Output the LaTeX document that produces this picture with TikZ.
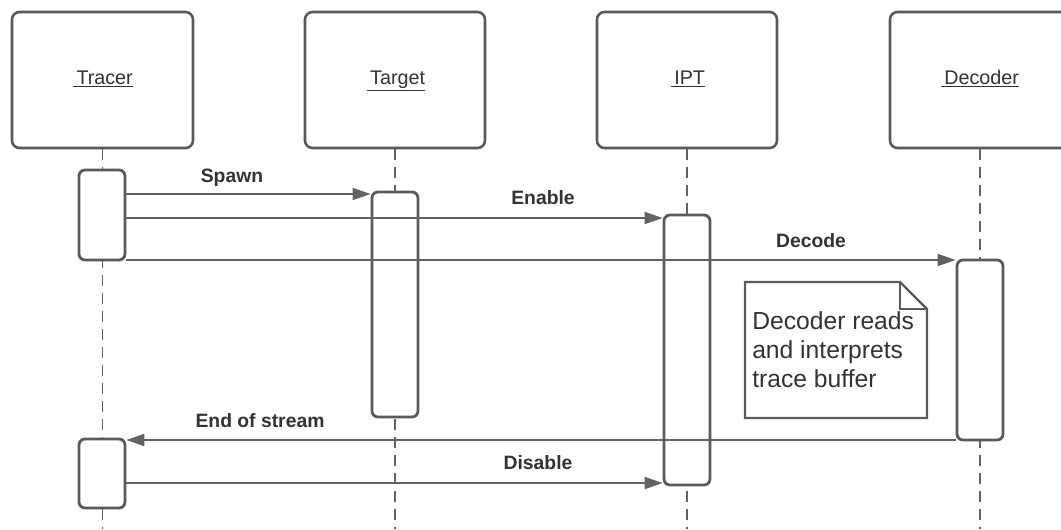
\documentclass[tikz,border=0pt]{standalone}
\usepackage{fontspec}
\setmainfont{Liberation Sans}
\usetikzlibrary{arrows.meta,fit}
\definecolor{edge}{HTML}{5A5A5A}
\definecolor{wire}{HTML}{626262}
\definecolor{ink}{HTML}{333333}
\begin{document}
\begin{tikzpicture}[x=0.75pt,y=-0.75pt,
  actor/.style={draw=edge,line width=2.6pt*0.75,rounded corners=7.5pt*0.75,fill=white,inner sep=0pt},
  activation/.style={draw=edge,line width=2.8pt*0.75,rounded corners=6pt*0.75,fill=white,inner sep=0pt},
  lifeline/.style={draw=wire,line width=1.6pt*0.75,dash pattern=on 8.25pt off 5.25pt},
  msg/.style={draw=wire,line width=1.8pt*0.75,-{Triangle[length=13.5pt,width=9pt]}},
  actorlabel/.style={text=ink,font=\fontsize{14.8}{17}\selectfont,anchor=base,inner sep=0pt},
  msglabel/.style={text=ink,font=\fontsize{14.5}{17}\selectfont\bfseries,inner sep=0pt},
  notebody/.style={text=ink,font=\fontsize{18.5}{21.75}\selectfont,align=left,anchor=north west,inner sep=0pt}]
\useasboundingbox (0,0) rectangle (1061,529);
\clip (0,0) rectangle (1061,529);
\fill[white] (0,0) rectangle (1061,529);

% participants
\node[actor,fit={(12,12)(193,148)}] (tracer) {};
\node[actor,fit={(305,12)(485,148)}] (target) {};
\node[actor,fit={(597,12)(777,148)}] (ipt) {};
\node[actor,fit={(890,12)(1070,148)}] (decoder) {};
\node[actorlabel] (ltracer) at (103,84) {\underline{\,Tracer}};
\node[actorlabel] (ltarget) at (396,84) {\underline{\,Target}};
\node[actorlabel] (lipt) at (688,84) {\underline{\,IPT}};
\node[actorlabel] (ldecoder) at (980,84) {\underline{\,Decoder}};

% lifelines, drawn under the activation bars
\coordinate (floor) at (0,529);
\foreach \p in {tracer,target,ipt,decoder}
  \draw[lifeline] (\p.south) -- (\p.south |- floor);

% activation bars
\node[activation,fit={(79,170)(125,260)}] (tr1) {};
\node[activation,fit={(79,439)(125,508)}] (tr2) {};
\node[activation,fit={(372,192)(418,417)}] (tg) {};
\node[activation,fit={(664,215)(710,485)}] (ip) {};
\node[activation,fit={(957,260)(1003,440)}] (dc) {};

% messages
\coordinate (yspawn) at (0,194);
\coordinate (yenable) at (0,218);
\coordinate (ydecode) at (0,260);
\coordinate (yend) at (0,440);
\coordinate (ydisable) at (0,483);
\draw[msg] (tr1.east |- yspawn) -- (tg.west |- yspawn);
\draw[msg] (tr1.east |- yenable) -- (ip.west |- yenable);
\draw[msg] (tr1.east |- ydecode) -- (dc.west |- ydecode);
\draw[msg] (dc.west |- yend) -- (tr2.east |- yend);
\draw[msg] (tr2.east |- ydisable) -- (ip.west |- ydisable);

\node[msglabel] (lspawn) at (232,178) {Spawn};
\node[msglabel] (lenable) at (543,198) {Enable};
\node[msglabel] (ldecode) at (811,241) {Decode};
\node[msglabel] (lend) at (260,421) {End of stream};
\node[msglabel] (ldisable) at (538,463) {Disable};

% note with folded corner
\draw[draw=edge,line width=2.4pt*0.75,fill=white]
  (745,282) -- (900,282) -- (927,309) -- (927,418) -- (745,418) -- cycle;
\draw[draw=edge,line width=2.4pt*0.75] (900,282) -- (900,309) -- (927,309);
\node[notebody] (note) at (752,311) {Decoder reads\\and interprets\\trace buffer};
\end{tikzpicture}
\end{document}
